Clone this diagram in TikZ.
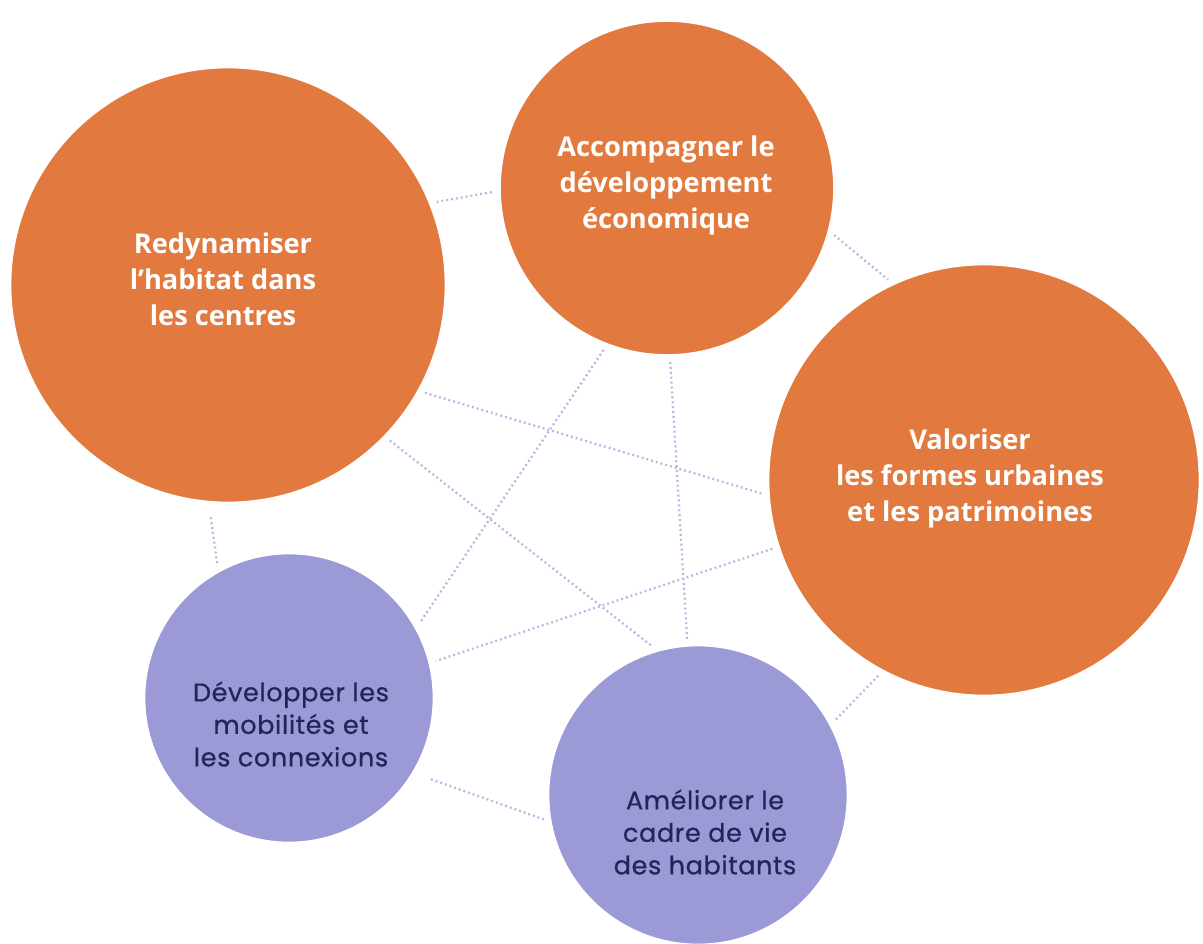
\documentclass[tikz,border=0pt]{standalone}
\usepackage{fontspec}
\setmainfont{Open Sans}
\newfontfamily\lowfont[LetterSpace=2.5, FakeBold=0.7]{Poppins}
\definecolor{orangeC}{HTML}{E27A3F}
\definecolor{lavC}{HTML}{9C9AD6}
\definecolor{dotC}{HTML}{B5BBE2}
\definecolor{navyC}{HTML}{24245A}
\begin{document}
\begin{tikzpicture}[x=0.02cm,y=-0.02cm,
  disc/.style={circle, draw=white, line width=1.5pt, inner sep=0pt},
  orangedisc/.style={disc, fill=orangeC},
  lavdisc/.style={disc, fill=lavC},
  toptext/.style={text=white, align=center, font=\bfseries\fontsize{15.5}{20.5}\selectfont},
  lowtext/.style={text=navyC, align=center, font=\lowfont\fontsize{14.5}{18.5}\selectfont},
  link/.style={draw=dotC, line width=1.3pt, dash pattern=on 1.1pt off 1.7pt, shorten <=3pt, shorten >=3pt}]
\useasboundingbox[fill=white] (0,0) rectangle (1203,943);
\node[orangedisc, minimum size=8.72cm] (c1) at (228,285) {};
\node[orangedisc, minimum size=6.70cm] (c2) at (667,188) {};
\node[orangedisc, minimum size=8.64cm] (c3) at (984,480) {};
\node[lavdisc, minimum size=5.80cm] (c4) at (289,698) {};
\node[lavdisc, minimum size=6.00cm] (c5) at (698,795) {};
\node[toptext] (t1) at (223,279) {Redynamiser\\l’habitat dans\\les centres};
\node[toptext] (t2) at (666,185) {Accompagner le\\développement\\économique};
\node[toptext] (t3) at (970,478) {Valoriser\\les formes urbaines\\et les patrimoines};
\node[lowtext] (t4) at (291,724) {Développer les\\mobilités et\\les connexions};
\node[lowtext] (t5) at (705,832) {Améliorer le\\cadre de vie\\des habitants};
\draw[link] (c1.22.8) -- (c2.181);
\draw[link] (c2.-15) -- (c3.115.6);
\draw[link] (c1.-29.8) -- (c3.184);
\draw[link] (c1.-44.6) -- (c5.106);
\draw[link, shorten <=8pt] (c1.-95.7) -- (c4.119.6);
\draw[link] (c2.-111) -- (c4.29.6);
\draw[link] (c2.-89) -- (c5.94);
\draw[link] (c3.-162.7) -- (c4.14.9);
\draw[link] (c3.-118.8) -- (c5.28);
\draw[link, shorten <=10pt] (c4.-31.3) -- (c5.190);
\end{tikzpicture}
\end{document}
